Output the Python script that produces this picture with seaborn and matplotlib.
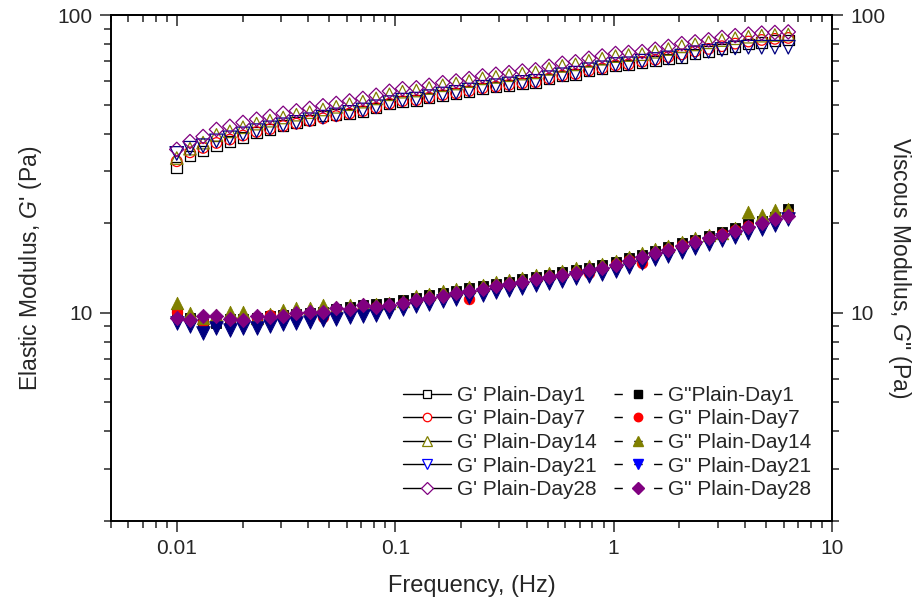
import matplotlib
matplotlib.use("Agg")
import matplotlib.pyplot as plt
import seaborn as sns
from matplotlib.lines import Line2D
from matplotlib.ticker import FuncFormatter, NullFormatter

# frequency sweep (Hz)
freq = [0.0100, 0.0115, 0.0132, 0.0152, 0.0175, 0.0201, 0.0232, 0.0267, 0.0307, 0.0353,
        0.0406, 0.0467, 0.0537, 0.0618, 0.0711, 0.0818, 0.0941, 0.108, 0.125, 0.143,
        0.165, 0.190, 0.218, 0.251, 0.289, 0.332, 0.382, 0.439, 0.506, 0.582,
        0.669, 0.770, 0.886, 1.02, 1.17, 1.35, 1.55, 1.78, 2.05, 2.36,
        2.72, 3.13, 3.60, 4.14, 4.76, 5.47, 6.30]

# G' (elastic modulus, Pa)
gp_day1 = [30.8, 33.6, 34.9, 36.3, 37.7, 38.8, 40.3, 41.3, 42.6, 43.5,
           44.4, 45.8, 46.4, 46.6, 47.5, 48.7, 50.3, 51.3, 51.7, 52.7,
           53.8, 54.5, 55.4, 56.6, 57.3, 58.1, 58.8, 59.3, 61.0, 62.4,
           63.2, 64.8, 65.8, 67.5, 67.9, 69.3, 70.2, 71.1, 72.1, 74.0,
           75.5, 77.0, 78.5, 80.0, 81.0, 82.0, 82.5]
gp_day7 = [32.3, 34.6, 35.8, 37.2, 38.2, 39.4, 40.5, 41.4, 42.4, 43.2,
           44.1, 45.0, 45.8, 46.7, 47.6, 48.8, 50.4, 51.4, 51.8, 52.8,
           53.9, 54.6, 55.6, 56.8, 57.5, 58.3, 59.0, 59.5, 61.2, 62.6,
           63.4, 65.1, 66.2, 67.8, 68.3, 69.7, 70.8, 72.3, 73.8, 75.5,
           77.0, 78.6, 80.2, 81.5, 82.5, 83.2, 83.8]
gp_day14 = [33.1, 35.6, 37.3, 39.6, 40.7, 42.0, 43.2, 44.2, 45.3, 46.3,
            47.2, 48.2, 49.2, 50.2, 51.2, 52.5, 54.2, 55.3, 55.8, 56.9,
            58.1, 58.9, 60.0, 61.3, 62.0, 62.8, 63.6, 64.2, 66.0, 67.5,
            68.3, 70.2, 71.4, 72.8, 73.4, 73.9, 75.3, 76.9, 78.6, 79.7,
            81.0, 82.4, 83.6, 84.6, 85.3, 85.7, 86.0]
gp_day21 = [34.3, 35.7, 36.4, 37.8, 38.7, 39.9, 40.9, 41.8, 42.8, 43.6,
            44.5, 45.4, 46.2, 47.1, 48.0, 49.2, 50.8, 51.8, 52.2, 53.2,
            54.3, 55.0, 56.0, 57.2, 57.9, 58.7, 59.4, 59.9, 61.6, 63.0,
            63.8, 65.5, 66.5, 68.2, 68.6, 70.0, 70.9, 71.8, 72.8, 74.7,
            75.6, 76.6, 77.6, 78.0, 78.0, 78.0, 78.0]
gp_day28 = [35.4, 37.6, 39.1, 41.3, 42.3, 43.6, 44.7, 45.7, 46.8, 47.7,
            48.6, 49.6, 50.5, 51.5, 52.5, 53.8, 55.5, 56.6, 57.0, 58.1,
            59.3, 60.1, 61.2, 62.5, 63.3, 64.1, 64.9, 65.5, 67.3, 68.9,
            69.7, 71.6, 72.9, 74.3, 74.9, 75.4, 76.8, 78.5, 80.2, 81.3,
            82.6, 84.1, 85.3, 86.3, 87.0, 87.4, 87.8]

# G'' (viscous modulus, Pa)
gpp_day1 = [10.10, 9.60, 9.15, 9.23, 9.50, 9.55, 9.60, 9.75, 9.85, 9.95,
            10.00, 10.10, 10.30, 10.45, 10.60, 10.70, 10.80, 11.05, 11.25, 11.45,
            11.66, 11.86, 12.08, 12.30, 12.52, 12.74, 12.97, 13.21, 13.44, 13.69,
            13.93, 14.18, 14.43, 14.79, 15.23, 15.68, 16.15, 16.63, 17.12, 17.63,
            18.16, 18.69, 19.25, 19.82, 20.40, 21.00, 22.40]
gpp_day7 = [10.10, 9.50, 9.35, 9.40, 9.55, 9.50, 9.60, 9.85, 9.80, 9.90,
            9.95, 9.70, 10.10, 10.20, 10.40, 10.45, 10.55, 10.80, 11.00, 11.20,
            11.40, 11.60, 11.10, 12.05, 12.30, 12.50, 12.70, 12.95, 13.20, 13.45,
            13.70, 13.60, 14.10, 14.60, 15.00, 14.70, 15.90, 16.40, 16.90, 17.40,
            17.90, 18.40, 18.95, 19.50, 20.10, 20.80, 21.60]
gpp_day14 = [10.80, 10.00, 9.60, 9.80, 10.10, 10.10, 9.60, 9.90, 10.23, 10.35,
             10.40, 10.64, 10.50, 10.64, 10.70, 10.75, 10.80, 11.00, 11.35, 11.55,
             11.80, 12.00, 12.20, 12.40, 12.65, 12.85, 13.10, 13.35, 13.60, 13.85,
             14.10, 14.35, 14.60, 14.95, 15.40, 15.85, 16.35, 16.80, 17.30, 17.80,
             18.20, 18.60, 19.20, 21.80, 21.30, 22.10, 22.30]
gpp_day21 = [9.23, 9.00, 8.55, 8.88, 8.77, 8.88, 8.88, 9.05, 9.15, 9.23,
             9.30, 9.47, 9.55, 9.70, 9.77, 9.85, 10.05, 10.34, 10.53, 10.72,
             10.92, 11.11, 11.31, 11.52, 11.72, 11.93, 12.15, 12.37, 12.59, 12.82,
             13.05, 13.27, 13.51, 13.85, 14.26, 14.68, 15.12, 15.57, 16.02, 16.50,
             17.00, 17.50, 18.02, 18.56, 19.10, 19.70, 20.60]
gpp_day28 = [9.60, 9.47, 9.77, 9.77, 9.55, 9.47, 9.77, 9.70, 9.77, 9.97,
             10.05, 10.05, 10.37, 10.30, 10.64, 10.50, 10.64, 10.83, 11.03, 11.23,
             11.43, 11.63, 11.84, 12.06, 12.27, 12.49, 12.72, 12.95, 13.18, 13.42,
             13.66, 13.90, 14.15, 14.50, 14.93, 15.37, 15.83, 16.30, 16.78, 17.28,
             17.80, 18.32, 18.87, 19.43, 20.00, 20.60, 21.20]

gp_labels = ["G' Plain-Day1", "G' Plain-Day7", "G' Plain-Day14", "G' Plain-Day21", "G' Plain-Day28"]
gpp_labels = ['G"Plain-Day1', 'G" Plain-Day7', 'G" Plain-Day14', 'G" Plain-Day21', 'G" Plain-Day28']

colors = ['#000000', '#FF0000', '#808000', '#000080', '#800080']
legend_colors = ['#000000', '#FF0000', '#808000', '#0000FF', '#800080']
markers = ['s', 'o', '^', 'v', 'D']
msizes = [7.6, 7.6, 9.0, 9.8, 7.3]

sns.set_style("ticks")
plt.rcParams['font.family'] = ['Liberation Sans', 'DejaVu Sans']
plt.rcParams['mathtext.fontset'] = 'custom'
plt.rcParams['mathtext.rm'] = 'Liberation Sans'
plt.rcParams['mathtext.it'] = 'Liberation Sans:italic'
plt.rcParams['axes.linewidth'] = 1.2

fig = plt.figure(figsize=(9.21, 6.03), dpi=100)
ax = fig.add_axes([0.1205, 0.136, 0.783, 0.839])
ax2 = ax.twinx()

gp_series = [gp_day1, gp_day7, gp_day14, gp_day21, gp_day28]
gpp_series = [gpp_day1, gpp_day7, gpp_day14, gpp_day21, gpp_day28]

# open symbols: G'
for vals, c, m, ms in zip(gp_series, colors, markers, msizes):
    sns.scatterplot(x=freq, y=vals, ax=ax, marker=m, s=ms ** 2,
                    facecolor='none', edgecolor=c, linewidth=0.9, zorder=3)

# filled symbols: G''
for vals, c, m, ms in zip(gpp_series, colors, markers, msizes):
    sns.scatterplot(x=freq, y=vals, ax=ax2, marker=m, s=ms ** 2,
                    facecolor=c, edgecolor=c, linewidth=0.6, zorder=3)

for a in (ax, ax2):
    a.set_xscale('log')
    a.set_yscale('log')
    a.set_ylim(2, 100)
ax.set_xlim(0.005, 10)

fmt = FuncFormatter(lambda v, p: f'{v:g}')
ax.xaxis.set_major_formatter(fmt)
ax.yaxis.set_major_formatter(fmt)
ax2.yaxis.set_major_formatter(fmt)
ax.xaxis.set_minor_formatter(NullFormatter())
ax.yaxis.set_minor_formatter(NullFormatter())
ax2.yaxis.set_minor_formatter(NullFormatter())

ax.tick_params(which='major', direction='out', length=8, width=1.1, labelsize=15, pad=5)
ax.tick_params(which='minor', direction='out', length=5, width=1.1)
ax2.tick_params(which='major', direction='out', length=8, width=1.1, labelsize=15, pad=5)
ax2.tick_params(which='minor', direction='out', length=5, width=1.1)

top = ax.secondary_xaxis('top')
top.tick_params(which='major', direction='in', length=8, width=1.1, labeltop=False)
top.tick_params(which='minor', direction='in', length=5, width=1.1)
top.xaxis.set_major_formatter(NullFormatter())
top.xaxis.set_minor_formatter(NullFormatter())

for a in (ax, ax2):
    for sp in a.spines.values():
        sp.set_linewidth(1.2)
        sp.set_color('black')

ax.set_xlabel('Frequency, (Hz)', fontsize=17, labelpad=12)
ax.set_ylabel(r"Elastic Modulus, $G$' (Pa)", fontsize=16.5, labelpad=10)
ax2.set_ylabel(r'Viscous Modulus, $G$" (Pa)', fontsize=16.5, rotation=270, labelpad=20)

handles = []
for c, m, ms, lab in zip(legend_colors, markers, msizes, gp_labels):
    handles.append(Line2D([], [], color='black', lw=1, marker=m, markersize=ms,
                          markerfacecolor='white', markeredgecolor=c,
                          markeredgewidth=0.9, label=lab))
for c, m, ms, lab in zip(legend_colors, markers, msizes, gpp_labels):
    handles.append(Line2D([], [], color='black', lw=1, ls=(0, (6, 8.25)), marker=m,
                          markersize=ms, markerfacecolor=c, markeredgecolor=c,
                          label=lab))
ax2.legend(handles=handles, ncol=2, frameon=False, loc='upper left',
           bbox_to_anchor=(0.405, 0.267), fontsize=15, handlelength=2.3,
           handletextpad=0.3, columnspacing=0.8, labelspacing=0.22,
           borderpad=0, borderaxespad=0, markerscale=0.8)

fig.savefig('out.png', dpi=100)
